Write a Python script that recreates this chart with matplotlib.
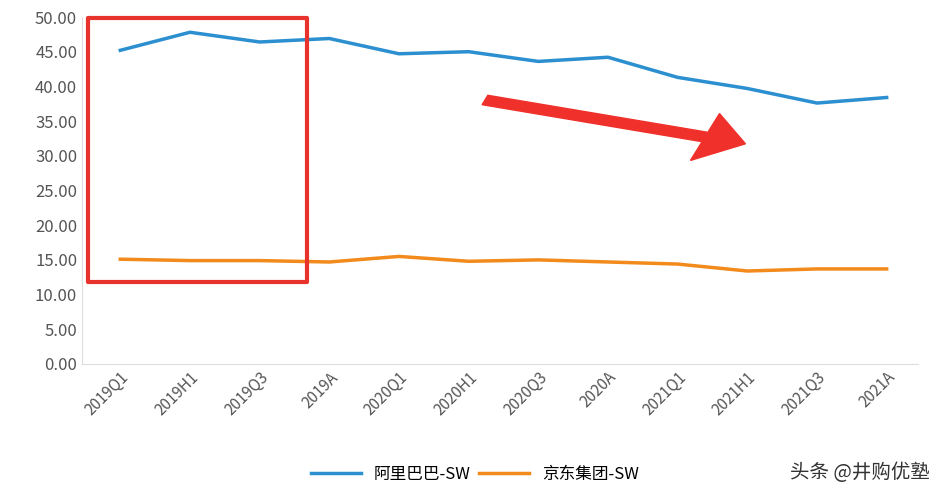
import matplotlib
matplotlib.use("Agg")
import matplotlib.pyplot as plt
from matplotlib.patches import Rectangle, FancyArrow

plt.rcParams['font.family'] = ['Noto Sans CJK SC', 'DejaVu Sans']

categories = ["2019Q1","2019H1","2019Q3","2019A","2020Q1","2020H1","2020Q3","2020A",
              "2021Q1","2021H1","2021Q3","2021A"]
alibaba = [45.2, 47.8, 46.4, 46.9, 44.7, 45.0, 43.6, 44.2, 41.3, 39.7, 37.6, 38.4]
jd = [15.1, 14.9, 14.9, 14.7, 15.5, 14.8, 15.0, 14.7, 14.4, 13.4, 13.7, 13.7]
yticks = [0, 5, 10, 15, 20, 25, 30, 35, 40, 45, 50]

W, H = 944, 492
fig = plt.figure(figsize=(W/100, H/100), dpi=100)
ax = fig.add_axes([82/W, 1-364/H, (918-82)/W, (364-17)/H])
x = range(len(categories))
ax.plot(x, alibaba, color='#2b8fd0', lw=2.5, label='阿里巴巴-SW')
ax.plot(x, jd, color='#f28a1c', lw=2.5, label='京东集团-SW')
ax.set_xlim(-0.55, len(categories)-0.55)
ax.set_ylim(0, 50)
ax.set_yticks(yticks)
ax.set_yticklabels([f"{v:.2f}" for v in yticks], fontsize=12, color='#555555')
ax.set_xticks(list(x))
ax.set_xticklabels(categories, rotation=45, ha='right', rotation_mode='anchor', fontsize=11, color='#555555')
for s in ['top', 'right']:
    ax.spines[s].set_visible(False)
ax.spines['left'].set_color('#dddddd')
ax.spines['bottom'].set_color('#dddddd')
ax.tick_params(length=0)
ax.legend(loc='upper center', bbox_to_anchor=(0.47, -0.25), ncol=2, frameon=False,
          fontsize=12, handlelength=3, columnspacing=0.5)

fig.patches.append(Rectangle((88/W, 1-282/H), (307-88)/W, (282-18)/H, transform=fig.transFigure,
                             fill=False, ec='#e8322c', lw=3, joinstyle='round'))
fig.patches.append(FancyArrow(485/W, 1-100/H, (705-485)/W, -(137-100)/H, transform=fig.transFigure,
                              width=0.02, head_width=0.1, head_length=0.045, color='#f0302a',
                              length_includes_head=False))
fig.text(0.985, 0.04, '头条 @井购优塾', ha='right', va='center', fontsize=14, color='#333333')
fig.savefig('out.png', dpi=100)
